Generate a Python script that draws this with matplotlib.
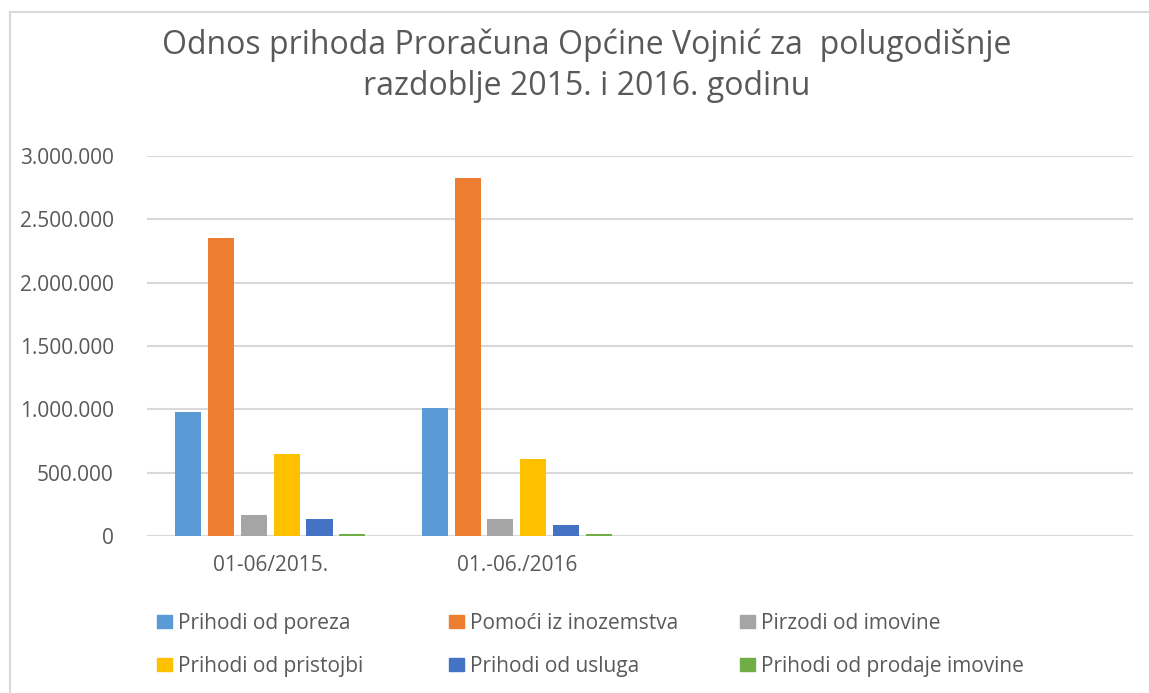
import matplotlib.pyplot as plt
from matplotlib.lines import Line2D
from matplotlib.patches import Patch
import numpy as np

plt.rcParams['font.family'] = ['Open Sans', 'DejaVu Sans']

# Podaci (ocitano sa slike)
kategorije = ['01-06/2015.', '01.-06./2016', '', '']
serije = ['Prihodi od poreza', 'Pomoći iz inozemstva', 'Pirzodi od imovine',
          'Prihodi od pristojbi', 'Prihodi od usluga', 'Prihodi od prodaje imovine']
vrijednosti = [
    [978000, 1013000],    # Prihodi od poreza
    [2350000, 2828000],   # Pomoći iz inozemstva
    [168000, 134000],     # Pirzodi od imovine
    [649000, 605000],     # Prihodi od pristojbi
    [132000, 89000],      # Prihodi od usluga
    [14000, 12000],       # Prihodi od prodaje imovine
]
boje = ['#5B9BD5', '#ED7D31', '#A5A5A5', '#FFC000', '#4472C4', '#70AD47']
y_ticks = [0, 500000, 1000000, 1500000, 2000000, 2500000, 3000000]

tekst_boja = '#595959'
grid_boja = '#D9D9D9'

fig = plt.figure(figsize=(11.49, 6.93), dpi=100)
ax = fig.add_axes([0.128, 0.2266, 0.858, 0.5483])

korak = 0.133
sirina = 0.106
x = np.arange(len(kategorije))
for j, (naziv, vals) in enumerate(zip(serije, vrijednosti)):
    pos = x[:len(vals)] + (j - 2.5) * korak
    ax.bar(pos, vals, width=sirina, color=boje[j], label=naziv, zorder=3)

ax.set_xlim(-0.5, len(kategorije) - 0.5)
ax.set_ylim(0, 3000000)
ax.set_yticks(y_ticks)
ax.set_yticklabels(['{:,}'.format(v).replace(',', '.') for v in y_ticks])
ax.set_xticks(x)
ax.set_xticklabels(kategorije)
ax.tick_params(axis='both', length=0, labelsize=15, colors=tekst_boja)
ax.tick_params(axis='y', pad=24)
ax.tick_params(axis='x', pad=14)
ax.grid(axis='y', color=grid_boja, linewidth=1.5, zorder=0)
for s in ax.spines.values():
    s.set_visible(False)

fig.text(0.511, 0.905, 'Odnos prihoda Proračuna Općine Vojnić za  polugodišnje\nrazdoblje 2015. i 2016. godinu',
         ha='center', va='center', fontsize=23, color=tekst_boja, linespacing=1.35)

# okvir grafikona
fig.add_artist(Line2D([10 / 1149, 10 / 1149], [0, 1 - 12 / 693], color=grid_boja, linewidth=1.5))
fig.add_artist(Line2D([10 / 1149, 1], [1 - 12 / 693, 1 - 12 / 693], color=grid_boja, linewidth=1.5))

# legenda u tri stupca
stupci_x = [157, 449, 740]
for c in range(3):
    h = [Patch(color=boje[c]), Patch(color=boje[c + 3])]
    lab = [serije[c], serije[c + 3]]
    fig.legend(h, lab, loc='upper left', bbox_to_anchor=(stupci_x[c] / 1149, 1 - 613 / 693),
               frameon=False, fontsize=15, labelcolor=tekst_boja, handlelength=0.7,
               handleheight=0.6, handletextpad=0.3, labelspacing=1.05, borderpad=0,
               borderaxespad=0)

fig.savefig('out.png', dpi=100)
